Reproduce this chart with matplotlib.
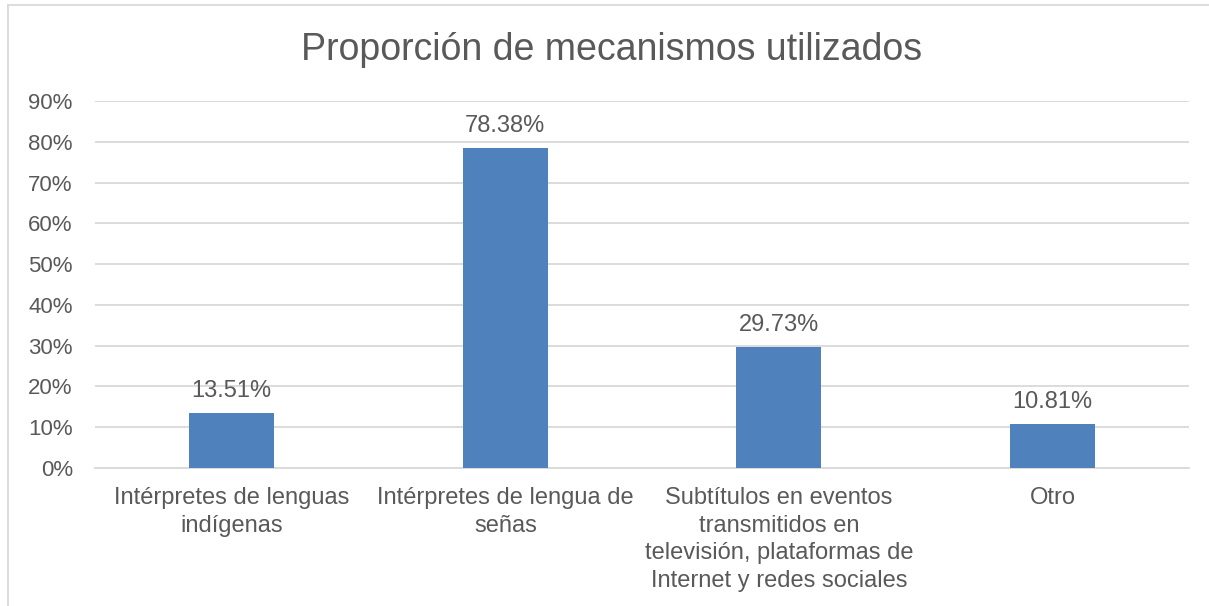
import matplotlib.pyplot as plt
from matplotlib.lines import Line2D
from matplotlib.ticker import FuncFormatter, MultipleLocator

plt.rcParams["font.family"] = ["Liberation Sans", "DejaVu Sans"]

TITLE = "Proporción de mecanismos utilizados"
categories = [
    "Intérpretes de lenguas\nindígenas",
    "Intérpretes de lengua de\nseñas",
    "Subtítulos en eventos\ntransmitidos en\ntelevisión, plataformas de\nInternet y redes sociales",
    "Otro",
]
values = [13.51, 78.38, 29.73, 10.81]

TEXT = "#595959"
GRID = "#D9D9D9"
BAR = "#4F81BD"

fig = plt.figure(figsize=(12.09, 6.06), dpi=100)
ax = fig.add_axes([0.0786, 0.2277, 0.905, 0.6056])

x = range(len(categories))
ax.bar(x, values, width=0.31, color=BAR, zorder=3)
for xi, v in zip(x, values):
    ax.annotate("{:.2f}%".format(v), (xi, v), xytext=(0, 8), textcoords="offset points",
                ha="center", va="bottom", fontsize=17, color=TEXT)

ax.set_xlim(-0.5, len(categories) - 0.5)
ax.set_ylim(0, 90)
ax.yaxis.set_major_locator(MultipleLocator(10))
ax.yaxis.set_major_formatter(FuncFormatter(lambda v, _: "{:.0f}%".format(v)))
ax.grid(axis="y", color=GRID, linewidth=1.3, zorder=0)
ax.set_axisbelow(True)
for side in ["top", "right", "left"]:
    ax.spines[side].set_visible(False)
ax.spines["bottom"].set_color(GRID)
ax.spines["bottom"].set_linewidth(1.3)

ax.set_xticks(list(x))
ax.set_xticklabels(categories, fontsize=17, color=TEXT, linespacing=1.32)
ax.tick_params(axis="x", length=0, pad=14)
ax.tick_params(axis="y", length=0, pad=16, labelsize=16, labelcolor=TEXT)

fig.text(0.506, 0.917, TITLE, ha="center", va="center", fontsize=27, color=TEXT)

# chart border (top and left visible in the crop)
fig.add_artist(Line2D([8 / 1209, 1], [1 - 5 / 606, 1 - 5 / 606], transform=fig.transFigure,
                      color=GRID, linewidth=1.3))
fig.add_artist(Line2D([8 / 1209, 8 / 1209], [0, 1 - 5 / 606], transform=fig.transFigure,
                      color=GRID, linewidth=1.3))

fig.savefig("out.png", dpi=100)
